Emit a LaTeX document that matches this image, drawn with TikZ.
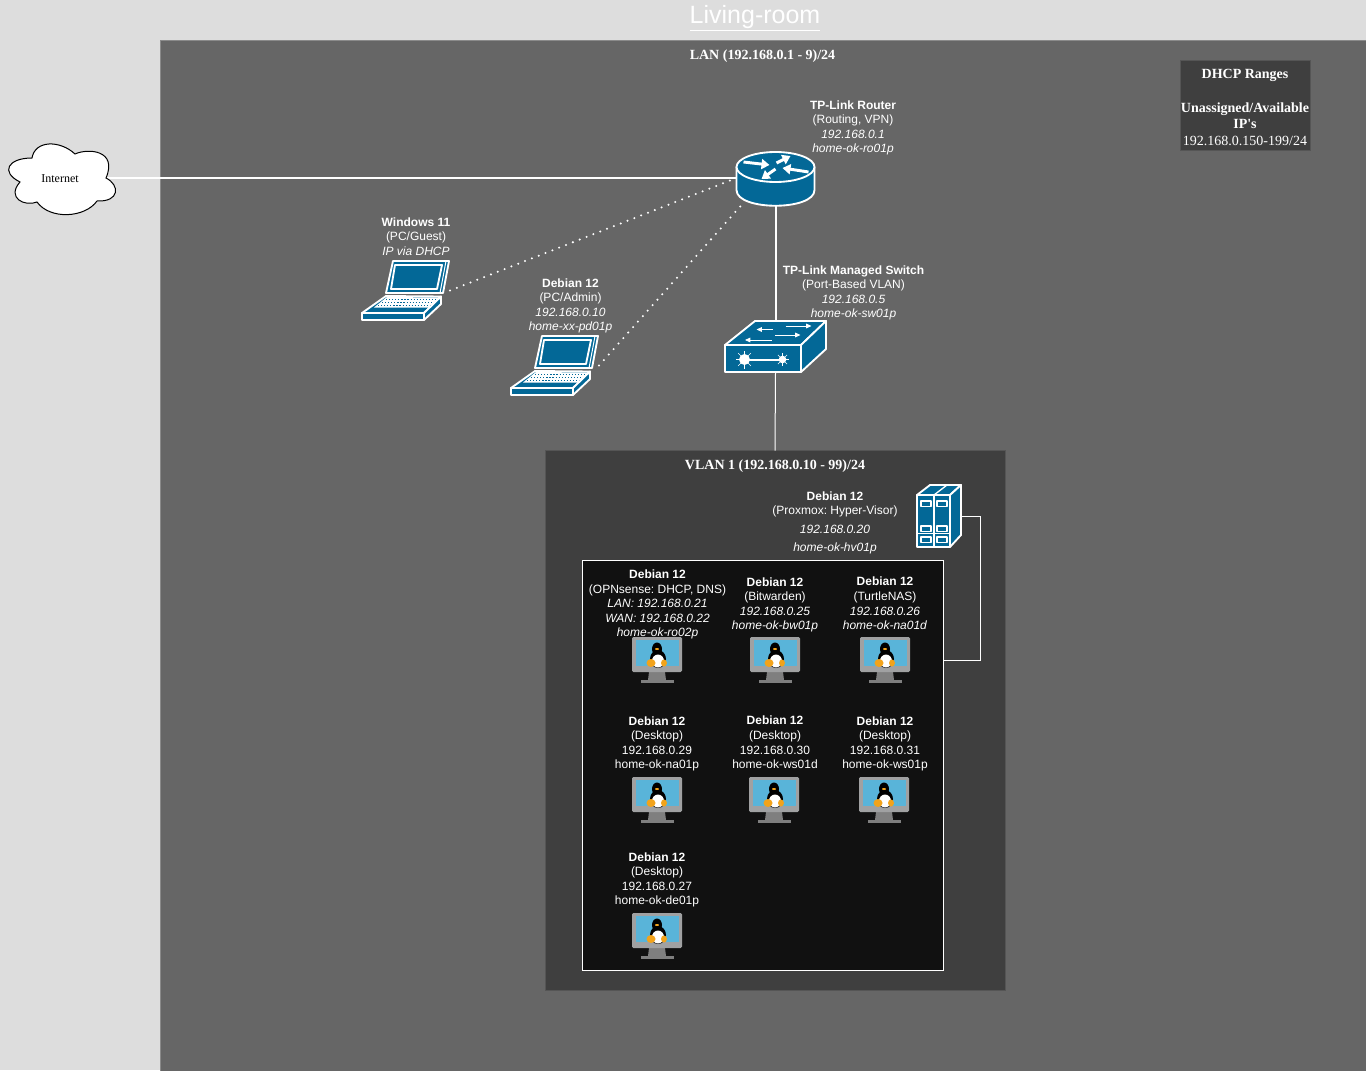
\documentclass[tikz,border=0pt]{standalone}
\usepackage{fontspec}
\usepackage{xcolor}
\setmainfont{Liberation Sans}
\newfontfamily\boxfont{Liberation Serif}
\usetikzlibrary{arrows.meta}
\definecolor{pagegray}{HTML}{DDDDDD}
\definecolor{langray}{HTML}{666666}
\definecolor{edgegray}{HTML}{8A8A8A}
\definecolor{edgedark}{HTML}{555555}
\definecolor{vlangray}{HTML}{3F3F3F}
\definecolor{vmblack}{HTML}{111111}
\definecolor{iconblue}{HTML}{036897}
\definecolor{vmframe}{HTML}{A0A1A2}
\definecolor{vmstand}{HTML}{7F7F7F}
\definecolor{vmscreen}{HTML}{59B4D9}
\definecolor{tuxfoot}{HTML}{F2A31B}
\tikzset{
  iconbox/.style={inner sep=0pt,outer sep=0pt},
  areabox/.style={draw=edgedark,line width=.75pt,inner sep=0pt,outer sep=0pt},
  hostlabel/.style={text=white,align=center,inner sep=0pt,font=\frenchspacing\fontsize{9}{10.9}\selectfont},
  boxlabel/.style={text=white,align=center,inner sep=0pt,font=\frenchspacing\boxfont\fontsize{10.5}{12.4}\selectfont},
  wire/.style={draw=white,line width=1.5pt},
  thinwire/.style={draw=white,line width=.75pt},
  dotwire/.style={draw=white,line width=1.7pt,line cap=round,dash pattern=on 0pt off 5.5pt},
  iconline/.style={draw=white,line width=1.4pt,line join=round,fill=iconblue},
  fatarrow/.style={draw=white,line width=2.2pt,-{Triangle[length=6pt,width=7.5pt]}},
  slimarrow/.style={draw=white,line width=.6pt,-{Triangle[length=4pt,width=3.5pt]}},
  pics/routericon/.style={code={
    \draw[iconline] (-39,-11) -- (-39,12) .. controls (-39,33) and (39,33) .. (39,12) -- (39,-11);
    \draw[iconline] (0,-11) ellipse (39 and 15);
    \draw[fatarrow] (-32,-16) -- (-6,-13);
    \draw[fatarrow] (33,-6) -- (7,-10);
    \draw[fatarrow] (1,-15) -- (15,-22);
    \draw[fatarrow] (0,-9) -- (-14,1);
  }},
  pics/switchicon/.style={code={
    \draw[iconline] (-50.5,-1.5) -- (-20.5,-25.5) -- (50.5,-25.5) -- (25.5,-1.5) -- cycle;
    \draw[iconline] (25.5,-1.5) -- (50.5,-25.5) -- (50.5,2.5) -- (25.5,25.5) -- cycle;
    \draw[iconline] (-50.5,-1.5) rectangle (25.5,25.5);
    \draw[slimarrow] (-3,-17) -- (-19,-17);
    \draw[slimarrow] (10,-20.5) -- (36,-20.5);
    \draw[slimarrow] (-.5,-11.5) -- (25,-11.5);
    \draw[slimarrow] (-4,-6.5) -- (-30.5,-6.5);
    \draw[white,line width=1.5pt] (-31,13) -- (7,13);
    \fill[white] (-31,13) circle (5.5);
    \fill[white] (7,13) circle (3.8);
    \foreach \ang in {0,45,...,315} {
      \draw[white,line width=.5pt] (-31,13) -- ++(\ang:9);
      \draw[white,line width=.5pt] (7,13) -- ++(\ang:6.5);
    }
  }},
  pics/laptopicon/.style={code={
    \draw[iconline] (-13,-29.5) -- (43,-29.5) -- (37,2.5) -- (-20,2.5) -- cycle;
    \draw[white,line width=.75pt] (40,-29.5) -- (34,2.5);
    \draw[iconline] (-11,-25.5) -- (36,-25.5) -- (31,-1.5) -- (-15,-1.5) -- cycle;
    \draw[iconline] (-20,5.5) -- (35,6) -- (18,22.5) -- (-44,22.5) -- cycle;
    \fill[white] (-19,6.5) -- (33,7) -- (24,17) -- (-32,17) -- cycle;
    \foreach \rowy/\rowa/\rowb in {9/-20/31,12/-24/28,15/-28/25} {
      \draw[iconblue,line width=.75pt,dash pattern=on .9pt off 1.4pt] (\rowa,\rowy) -- (\rowb,\rowy);
    }
    \draw[iconline] (-44,22.5) rectangle (18,29.5);
    \draw[iconline] (18,29.5) -- (35,13.5) -- (35,6) -- (18,22.5) -- cycle;
  }},
  pics/servericon/.style={code={
    \draw[iconline] (-22,-21) -- (-9,-31) -- (22,-31) -- (11,-21) -- cycle;
    \draw[white,line width=1pt] (-5,-21) -- (8,-31);
    \draw[iconline] (11,-21) -- (22,-31) -- (22,19) -- (11,31) -- cycle;
    \draw[iconline] (-22,-21) rectangle (-5,31);
    \draw[iconline] (-5,-21) rectangle (11,31);
    \draw[white,line width=.75pt] (-22,17.5) -- (11,17.5);
    \foreach \slotx in {-18,-2} {
      \foreach \sloty in {-15,10,21} {
        \draw[iconline,line width=.9pt] (\slotx,\sloty) rectangle ++(10,5.5);
      }
    }
  }},
  pics/vmicon/.style={code={
    \fill[vmstand] (-8,12) -- (8,12) -- (9,20) -- (-9,20) -- cycle;
    \fill[vmstand] (-16,20) rectangle (17,23);
    \fill[vmframe,rounded corners=1pt] (-25,-23) rectangle (25,12);
    \fill[vmscreen] (-21,-20) rectangle (22,6);
    \fill[black] (0,-11) ellipse (5 and 6.5);
    \fill[black] (1,-1) ellipse (8 and 9);
    \fill[white] (1,1) ellipse (6 and 6.5);
    \fill[tuxfoot] (0,-11) ellipse (2 and 1);
    \fill[tuxfoot] (-6,3) ellipse (4.5 and 4);
    \fill[tuxfoot] (7,3) ellipse (3 and 3.5);
  }},
}
\begin{document}
\begin{tikzpicture}[x=.75pt,y=-.75pt]
\clip (0,0) rectangle (1366,1070);
\fill[pagegray] (0,0) rectangle (1366,1070);
% areas
\node[areabox,draw=edgegray,fill=langray,minimum width=930pt,minimum height=795pt] (lan) at (780,571) {};
\node[areabox,fill=vlangray,minimum width=345pt,minimum height=405pt] (vlan) at (775,720.5) {};
\node[areabox,draw=white,fill=vmblack,minimum width=270.75pt,minimum height=307.5pt] (vmbox) at (763,765) {};
\node[areabox,fill=vlangray,minimum width=97.5pt,minimum height=67.5pt] (dhcp) at (1245,105.5) {};
% icon places
\node[iconbox,minimum width=73.5pt,minimum height=51pt] (internet) at (57,178) {};
\node[iconbox,minimum width=58.5pt,minimum height=40.5pt] (router) at (775.5,178) {};
\node[iconbox,minimum width=76pt,minimum height=38.25pt] (switch) at (775.5,346.5) {};
\node[iconbox,minimum width=66pt,minimum height=44.25pt] (laptopA) at (406,290.5) {};
\node[iconbox,minimum width=66pt,minimum height=44.25pt] (laptopB) at (555,365.5) {};
\node[iconbox,minimum width=33pt,minimum height=46.5pt] (server) at (939,516) {};
% connectors
\draw[wire] (internet.east) -- (router.west);
\draw[dotwire] (laptopA.east) -- (router.west);
\draw[dotwire] (laptopB.east) -- ([xshift=3.75pt]router.south west);
\draw[wire] (router.south) -- (switch.north);
\draw[thinwire] (switch.south) -- (vlan.north);
\foreach \vmname/\vmx/\vmy in {vmRo/657/660,vmBw/775/660,vmNd/885/660,vmNa/657/800,vmWd/774/800,vmWp/884/800,vmDe/657/936} {
  \node[iconbox,minimum width=37.5pt,minimum height=34.5pt] (\vmname) at (\vmx,\vmy) {};
  \pic at (\vmname) {vmicon};
}
\draw[thinwire] (server.east) -- ++(19,0) |- (vmbox.east |- vmRo);
% icons
\draw[black,fill=white,line width=.75pt] (32,158) .. controls (35,140) and (60,140) .. (75,154)
  .. controls (88,148) and (118,150) .. (106,178) .. controls (120,185) and (120,202) .. (97,201)
  .. controls (85,218) and (50,220) .. (37,202) .. controls (25,207) and (6,198) .. (20,182)
  .. controls (0,172) and (8,158) .. (32,158) -- cycle;
\node[inner sep=0pt,font=\boxfont\fontsize{9}{11}\selectfont] (internetlabel) at (60,179) {Internet};
\pic at (router) {routericon};
\pic at (switch) {switchicon};
\pic at (laptopA) {laptopicon};
\pic at (laptopB) {laptopicon};
\pic at (server) {servericon};
% texts
\node[text=white,inner sep=0pt,font=\fontsize{18.75}{22}\selectfont] (title) at (755,18.5) {\underline{Living-room}};
\node[boxlabel] (lanlabel) at (762.5,56) {\textbf{LAN (192.168.0.1 - 9)/24}};
\node[boxlabel] (vlanlabel) at (775,466) {\textbf{VLAN 1 (192.168.0.10 - 99)/24}};
\node[boxlabel] (dhcplabel) at (1245,107.5) {\textbf{DHCP Ranges}\\[12.4pt]\textbf{Unassigned/Available}\\\textbf{IP's}\\192.168.0.150-199/24};
\node[hostlabel] (routerlabel) at (853,128) {\textbf{TP-Link Router}\\(Routing, VPN)\\\textit{192.168.0.1}\\\textit{home-ok-ro01p}};
\node[hostlabel] (switchlabel) at (853.5,293) {\textbf{TP-Link Managed Switch}\\(Port-Based VLAN)\\\textit{192.168.0.5}\\\textit{home-ok-sw01p}};
\node[hostlabel] (laptopAlabel) at (416,236.5) {\textbf{Windows 11}\\(PC/Guest)\\\textit{IP via DHCP}};
\node[hostlabel] (laptopBlabel) at (570.5,306) {\textbf{Debian 12}\\(PC/Admin)\\\textit{192.168.0.10}\\\textit{home-xx-pd01p}};
\node[hostlabel] (serverlabel) at (835,523) {\textbf{Debian 12}\\(Proxmox: Hyper-Visor)\\[3.2pt]\textit{192.168.0.20}\\[2.6pt]\textit{home-ok-hv01p}};
\node[hostlabel] (vmRolabel) at (657.5,604.6) {\textbf{Debian 12}\\(OPNsense: DHCP, DNS)\\\textit{LAN: 192.168.0.21}\\\textit{WAN: 192.168.0.22}\\\textit{home-ok-ro02p}};
\node[hostlabel] (vmBwlabel) at (775,605) {\textbf{Debian 12}\\(Bitwarden)\\\textit{192.168.0.25}\\\textit{home-ok-bw01p}};
\node[hostlabel] (vmNdlabel) at (885,603.5) {\textbf{Debian 12}\\(TurtleNAS)\\\textit{192.168.0.26}\\\textit{home-ok-na01d}};
\node[hostlabel] (vmNalabel) at (657,744) {\textbf{Debian 12}\\(Desktop)\\192.168.0.29\\home-ok-na01p};
\node[hostlabel] (vmWdlabel) at (775,742.5) {\textbf{Debian 12}\\(Desktop)\\192.168.0.30\\home-ok-ws01d};
\node[hostlabel] (vmWplabel) at (885,744) {\textbf{Debian 12}\\(Desktop)\\192.168.0.31\\home-ok-ws01p};
\node[hostlabel] (vmDelabel) at (657,880) {\textbf{Debian 12}\\(Desktop)\\192.168.0.27\\home-ok-de01p};
\end{tikzpicture}
\end{document}
